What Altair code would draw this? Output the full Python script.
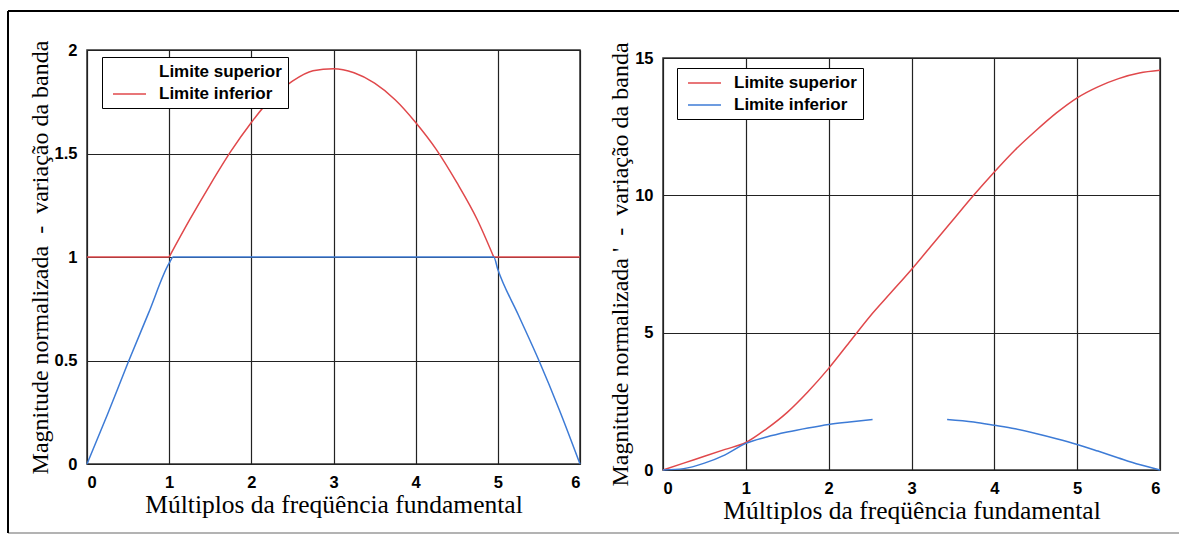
import altair as alt
import pandas as pd

# ---- painel esquerdo: faixa de magnitude 0..2 ----
xa_sup_ini = [0.0, 1.0]
ya_sup_ini = [1.0, 1.0]
xa_sup_arco = [1.0, 1.25, 1.5, 1.75, 2.0, 2.25, 2.5, 2.75, 3.0, 3.25, 3.5, 3.75, 4.0, 4.25, 4.5, 4.75, 4.95]
ya_sup_arco = [1.0, 1.18, 1.35, 1.51, 1.65, 1.77, 1.85, 1.90, 1.91, 1.89, 1.84, 1.76, 1.65, 1.52, 1.36, 1.18, 1.0]
xa_sup_fim = [4.95, 6.0]
ya_sup_fim = [1.0, 1.0]
xa_inf = [0.0, 0.25, 0.5, 0.75, 1.0, 1.05, 4.95, 5.0, 5.25, 5.5, 5.75, 6.0]
ya_inf = [0.0, 0.24, 0.49, 0.73, 0.97, 1.0, 1.0, 0.94, 0.72, 0.5, 0.26, 0.0]

# ---- painel direito: faixa de magnitude 0..15 ----
xb_sup = [0.0, 0.25, 0.5, 0.75, 1.0, 1.25, 1.5, 1.75, 2.0, 2.25, 2.5, 2.75, 3.0,
          3.25, 3.5, 3.75, 4.0, 4.25, 4.5, 4.75, 5.0, 5.25, 5.5, 5.75, 6.0]
yb_sup = [0.0, 0.25, 0.5, 0.75, 1.0, 1.5, 2.1, 2.85, 3.7, 4.65, 5.6, 6.45, 7.3,
          8.2, 9.1, 10.0, 10.85, 11.65, 12.35, 13.0, 13.55, 13.95, 14.25, 14.45, 14.55]
xb_inf_1 = [0.0, 0.25, 0.5, 0.75, 1.0, 1.25, 1.5, 1.75, 2.0, 2.25, 2.53]
yb_inf_1 = [0.0, 0.05, 0.25, 0.55, 0.97, 1.2, 1.38, 1.53, 1.66, 1.75, 1.84]
xb_inf_2 = [3.43, 3.75, 4.0, 4.25, 4.5, 4.75, 5.0, 5.25, 5.5, 5.75, 6.0]
yb_inf_2 = [1.84, 1.75, 1.63, 1.5, 1.33, 1.14, 0.93, 0.69, 0.44, 0.2, 0.0]

SERIES = ["Limite superior", "Limite inferior"]
CURVAS = ["sup", "inf"]
X_TICKS = [0, 1, 2, 3, 4, 5, 6]
YA_TICKS = [0, 0.5, 1, 1.5, 2]
YB_TICKS = [0, 5, 10, 15]
X_TITLE = "Múltiplos da freqüência fundamental"
NB = "\u00a0"
YA_TITLE = "Magnitude normalizada" + NB * 2 + "-" + NB * 2 + "variação da banda"
YB_TITLE = "Magnitude normalizada" + NB + "'" + NB * 2 + "-" + NB * 2 + "variação da banda"

RED = "#e0484b"
BLUE = "#3d7bd6"
SANS = "Liberation Sans"
SERIF = "Liberation Serif"


def tabela(blocos):
    linhas = []
    for serie, curva, trecho, xs, ys in blocos:
        for x, y in zip(xs, ys):
            linhas.append({"x": x, "y": y, "serie": serie, "curva": curva, "trecho": trecho})
    return pd.DataFrame(linhas)


dados_a = tabela([
    (SERIES[0], CURVAS[0], "s1", xa_sup_ini, ya_sup_ini),
    (SERIES[0], CURVAS[0], "s2", xa_sup_arco, ya_sup_arco),
    (SERIES[0], CURVAS[0], "s3", xa_sup_fim, ya_sup_fim),
    (SERIES[1], CURVAS[1], "i1", xa_inf, ya_inf),
])
dados_b = tabela([
    (SERIES[0], CURVAS[0], "s1", xb_sup, yb_sup),
    (SERIES[1], CURVAS[1], "i1", xb_inf_1, yb_inf_1),
    (SERIES[1], CURVAS[1], "i2", xb_inf_2, yb_inf_2),
])
# entradas da legenda do painel esquerdo (um ponto por rótulo, nada é traçado)
rotulos_a = pd.DataFrame({"x": [0.0, 0.0], "y": [0.0, 0.0], "rotulo": SERIES})


def eixo_x():
    return alt.X("x:Q", scale=alt.Scale(domain=[0, 6], nice=False, zero=False),
                 axis=alt.Axis(values=X_TICKS, title=X_TITLE, format="~g", titleFontSize=25.5))


def eixo_y(dominio, valores, titulo):
    return alt.Y("y:Q", scale=alt.Scale(domain=dominio, nice=False),
                 axis=alt.Axis(values=valores, title=titulo, format="~g", titleFontSize=24))


def legenda(lx, ly):
    return alt.Legend(
        orient="none", legendX=lx, legendY=ly, title=None,
        strokeColor="black", fillColor="white", padding=6,
        symbolType="M-2,0H2", symbolSize=272, symbolStrokeWidth=1.5,
        symbolOffset=12.5, labelOffset=20.5, rowPadding=5,
        labelFont=SANS, labelFontSize=17, labelFontWeight="bold",
        labelColor="black", labelLimit=400,
    )


um = alt.Data(values=[{"k": 0}])

# moldura externa da figura (bordas superior, inferior e esquerda)
moldura = [
    alt.Chart(um).mark_rule(color="black", strokeWidth=2, orient="horizontal").encode(
        x=alt.value(-79), x2=alt.value(1092), y=alt.value(-39)),
    alt.Chart(um).mark_rule(color="#9a9a9a", strokeWidth=1.5, orient="horizontal").encode(
        x=alt.value(-79), x2=alt.value(1092), y=alt.value(483)),
    alt.Chart(um).mark_rule(color="black", strokeWidth=2, orient="vertical").encode(
        x=alt.value(-79), y=alt.value(-39), y2=alt.value(483)),
]

# painel esquerdo: curvas + legenda própria
linhas_a = alt.Chart(dados_a).mark_line(strokeWidth=1.5, interpolate="monotone").encode(
    x=eixo_x(),
    y=eixo_y([0, 2], YA_TICKS, YA_TITLE),
    stroke=alt.Stroke("curva:N", scale=alt.Scale(domain=CURVAS, range=[RED, BLUE]), legend=None),
    detail="trecho:N",
)
legenda_a = alt.Chart(rotulos_a).mark_line(strokeWidth=1.5).encode(
    x="x:Q", y="y:Q",
    color=alt.Color("rotulo:N", scale=alt.Scale(domain=SERIES, range=["transparent", RED]),
                    legend=legenda(15, 7)),
)
painel_a = alt.layer(linhas_a, legenda_a, *moldura).properties(width=493, height=414)

# painel direito
linhas_b = alt.Chart(dados_b).mark_line(strokeWidth=1.5, interpolate="monotone").encode(
    x=eixo_x(),
    y=eixo_y([0, 15], YB_TICKS, YB_TITLE),
    color=alt.Color("serie:N", scale=alt.Scale(domain=SERIES, range=[RED, BLUE]),
                    legend=legenda(14, 18)),
    detail="trecho:N",
)
painel_b = alt.layer(linhas_b).properties(width=497, height=412)

# faixa vazia que desloca o painel direito alguns pixels para baixo
recuo = alt.Chart(um).mark_point(opacity=0).properties(
    width=497, height=8, view=alt.ViewBackground(stroke="transparent"))
coluna_b = alt.vconcat(recuo, painel_b, spacing=0, bounds="flush")

chart = alt.hconcat(painel_a, coluna_b, spacing=83, bounds="flush").resolve_scale(
    color="independent", stroke="independent"
).resolve_legend(color="independent").properties(
    padding={"left": 6, "top": 9, "right": 0, "bottom": 0},
    background="white",
).configure_view(
    stroke="#333333", strokeWidth=1.5,
).configure_axis(
    grid=True, gridColor="#222222", gridWidth=1.2, gridOpacity=1,
    domain=False, ticks=False,
    labelFont=SANS, labelFontSize=16.5, labelFontWeight="bold", labelColor="black",
    labelPadding=10,
    titleFont=SERIF, titleFontWeight="normal", titleColor="black",
    titlePadding=2,
)

chart.save("out.html", embed_options={"renderer": "svg", "actions": False})
